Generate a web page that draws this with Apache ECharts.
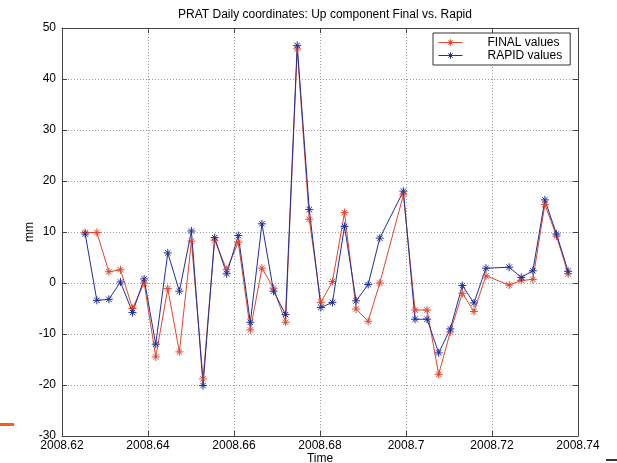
<!DOCTYPE html>
<html>
<head>
<meta charset="utf-8">
<script src="https://cdn.jsdelivr.net/npm/echarts@6/dist/echarts.min.js"></script>
<style>
  html, body { margin: 0; padding: 0; background: #ffffff; }
  #chart { width: 617px; height: 463px; }
</style>
</head>
<body>
<div id="chart"></div>
<script>
// Epoch of each daily solution (decimal year)
const times = [
  2008.6254, 2008.6281, 2008.6309, 2008.6336, 2008.6364, 2008.6391, 2008.6418,
  2008.6446, 2008.6473, 2008.6501, 2008.6528, 2008.6555, 2008.6583, 2008.6610,
  2008.6638, 2008.6665, 2008.6692, 2008.6720, 2008.6747, 2008.6775, 2008.6802,
  2008.6829, 2008.6857, 2008.6884, 2008.6912, 2008.6939, 2008.6994, 2008.7021,
  2008.7049, 2008.7076, 2008.7103, 2008.7131, 2008.7158, 2008.7186, 2008.7240,
  2008.7268, 2008.7295, 2008.7323, 2008.7350, 2008.7377
];

// Up component, final orbits (mm)
const finalUp = [
  9.9, 9.9, 2.2, 2.6, -5.0, 0.0, -14.5,
  -1.1, -13.5, 8.2, -18.8, 8.4, 2.6, 8.0,
  -9.2, 2.9, -1.0, -7.7, 45.9, 12.5, -3.8,
  0.3, 13.8, -5.1, -7.5, 0.0, 17.3, -5.3,
  -5.3, -17.9, -9.6, -2.0, -5.6, 1.4, -0.4,
  0.5, 0.7, 15.4, 9.2, 1.8
];

// Up component, rapid orbits (mm)
const rapidUp = [
  9.6, -3.4, -3.2, 0.2, -5.8, 0.8, -12.0,
  5.9, -1.6, 10.2, -20.1, 8.9, 1.8, 9.3,
  -7.7, 11.6, -1.6, -6.2, 46.6, 14.4, -4.8,
  -3.8, 11.1, -3.5, -0.3, 8.8, 18.0, -7.1,
  -7.1, -13.7, -9.0, -0.5, -3.9, 2.9, 3.1,
  1.1, 2.4, 16.3, 9.6, 2.3
];

const seriesNames = ['FINAL values', 'RAPID values'];
const yTicks = { min: -30, max: 50, step: 10 };
const xTicks = { min: 2008.62, max: 2008.74, step: 0.02 };

const FONT = 'Liberation Sans, Arial, sans-serif';
const AXIS_COLOR = '#444444';
const RED = '#e0452f';
const BLUE = '#1f2f9c';
// asterisk marker: plus and cross strokes
const STAR = 'path://M0,5L10,5M5,0L5,10M1.6,1.6L8.4,8.4M8.4,1.6L1.6,8.4';

function pairs(xs, ys) {
  return xs.map((x, i) => [x, ys[i]]);
}

function fmtX(v) {
  return String(parseFloat(v.toFixed(2)));
}

const gridLine = { show: true, lineStyle: { color: '#9a9a9a', type: [1, 2], width: 1 } };
const tickIn = { show: true, inside: true, length: 5, lineStyle: { color: AXIS_COLOR } };
const axisLine = { show: true, onZero: false, lineStyle: { color: AXIS_COLOR, width: 1 } };
const labelStyle = { color: '#000000', fontFamily: FONT, fontSize: 12 };

const chart = echarts.init(document.getElementById('chart'), null, { renderer: 'canvas' });

function mkSeries(name, ys, color) {
  return {
    name: name,
    type: 'line',
    xAxisIndex: 0,
    yAxisIndex: 0,
    data: pairs(times, ys),
    symbol: STAR,
    symbolSize: 8,
    showSymbol: true,
    lineStyle: { color: color, width: 1 },
    itemStyle: { color: color, borderColor: color, borderWidth: 1 },
    emphasis: { disabled: true },
    animation: false
  };
}

chart.setOption({
  backgroundColor: '#ffffff',
  animation: false,
  title: {
    text: 'PRAT Daily coordinates: Up component Final vs. Rapid',
    left: 320,
    textAlign: 'center',
    top: 4,
    textStyle: { fontFamily: FONT, fontSize: 12, fontWeight: 'normal', color: '#000000' }
  },
  legend: {
    data: seriesNames,
    orient: 'vertical',
    left: 433,
    top: 33,
    padding: [3, 8, 3, 5],
    itemGap: 0,
    itemWidth: 24,
    itemHeight: 8,
    backgroundColor: '#ffffff',
    borderColor: '#333333',
    borderWidth: 1,
    borderRadius: 0,
    itemStyle: { borderWidth: 1 },
    lineStyle: { width: 1 },
    textStyle: { fontFamily: FONT, fontSize: 12, color: '#000000', padding: [0, 0, 0, 20], lineHeight: 13 }
  },
  grid: { left: 62, top: 28, right: 39, bottom: 27, containLabel: false, outerBoundsMode: 'none' },
  xAxis: [
    {
      type: 'value',
      min: xTicks.min, max: xTicks.max, interval: xTicks.step,
      name: 'Time', nameLocation: 'middle', nameGap: 17, nameMoveOverlap: false,
      nameTextStyle: labelStyle,
      axisLine: axisLine, axisTick: tickIn,
      axisLabel: Object.assign({ margin: 4, formatter: fmtX }, labelStyle),
      splitLine: gridLine
    },
    {
      type: 'value', position: 'top',
      min: xTicks.min, max: xTicks.max, interval: xTicks.step,
      axisLine: axisLine, axisTick: tickIn,
      axisLabel: { show: false }, splitLine: { show: false }
    }
  ],
  yAxis: [
    {
      type: 'value',
      min: yTicks.min, max: yTicks.max, interval: yTicks.step,
      name: 'mm', nameLocation: 'middle', nameGap: 26, nameRotate: 90, nameMoveOverlap: false,
      nameTextStyle: labelStyle,
      axisLine: axisLine, axisTick: tickIn,
      axisLabel: Object.assign({ margin: 6 }, labelStyle),
      splitLine: gridLine
    },
    {
      type: 'value', position: 'right',
      min: yTicks.min, max: yTicks.max, interval: yTicks.step,
      axisLine: axisLine, axisTick: tickIn,
      axisLabel: { show: false }, splitLine: { show: false }
    }
  ],
  series: [
    mkSeries(seriesNames[0], finalUp, RED),
    mkSeries(seriesNames[1], rapidUp, BLUE)
  ],
  graphic: [
    { type: 'rect', left: 0, top: 423, shape: { width: 14, height: 3 }, style: { fill: '#ff5a14' }, silent: true },
    { type: 'rect', left: 606, top: 459, shape: { width: 11, height: 2 }, style: { fill: '#333333' }, silent: true }
  ]
});
</script>
</body>
</html>
